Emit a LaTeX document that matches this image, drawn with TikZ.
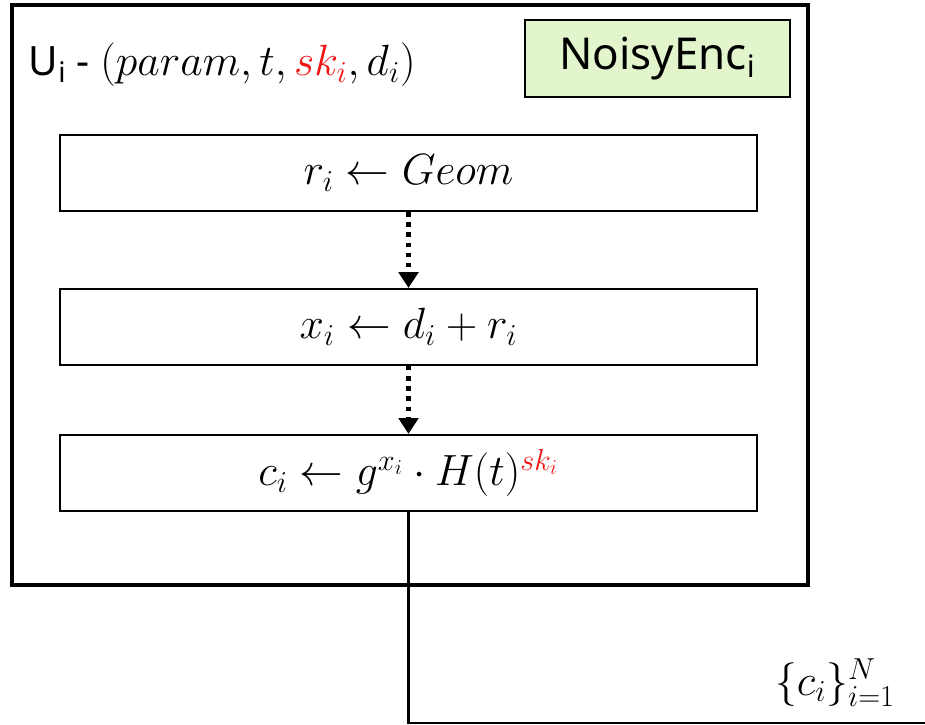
\documentclass[tikz,border=0pt]{standalone}
\usepackage{fontspec}
\setsansfont{Noto Sans}
\usepackage{xcolor}
\usepackage{tikz}
\usetikzlibrary{arrows.meta,positioning}
\definecolor{encgreen}{RGB}{226,245,205}
\definecolor{skred}   {RGB}{240,20,20}
\begin{document}
\begin{tikzpicture}[node distance=1.52cm,
  userbox/.style={draw, line width=2.3pt},
  encbox/.style={draw, line width=1.2pt, fill=encgreen, minimum width=5.3cm,
                 minimum height=1.54cm, font=\fontsize{25}{30}\selectfont\sffamily},
  stepbox/.style={draw, line width=1.1pt, minimum width=13.94cm,
                  minimum height=1.52cm, font=\fontsize{25}{30}\selectfont},
  darr/.style={-{Triangle[width=11pt,length=9pt]}, line width=2.4pt,
               dash pattern=on 2.6pt off 3.2pt},
  outline/.style={line width=1.3pt},
]
  \useasboundingbox (0,0) rectangle (18.5,-14.5);
  \draw[userbox] (0.24,-0.1) rectangle (16.16,-11.7);
  \node[anchor=west, font=\fontsize{23}{28}\selectfont] (user) at (0.45,-1.3)
        {\sffamily U\textsubscript{i} - \rmfamily\fontsize{25}{30}\selectfont
         $(param, t, \textcolor{skred}{sk_i}, d_i)$};
  \node[encbox] (enc) at (13.15,-1.17) {NoisyEnc\textsubscript{i}};

  \node[stepbox] (geom) at (8.17,-3.46) {$r_i \leftarrow Geom$};
  \node[stepbox, below=of geom] (mask) {$x_i \leftarrow d_i + r_i$};
  \node[stepbox, below=1.36cm of mask] (cipher)
        {$c_i \leftarrow g^{x_i} \cdot H(t)^{\textcolor{skred}{sk_i}}$};

  \coordinate (corner) at (8.17,-14.46);
  \coordinate (out) at (18.5,-14.46);
  \node[font=\fontsize{25}{30}\selectfont] (res) at (16.7,-13.65)
        {$\{c_i\}_{i=1}^{N}$};

  \draw[darr] (geom) -- (mask);
  \draw[darr] (mask) -- (cipher);
  \draw[outline] (cipher.south) -- (corner) -- (out);
\end{tikzpicture}
\end{document}
